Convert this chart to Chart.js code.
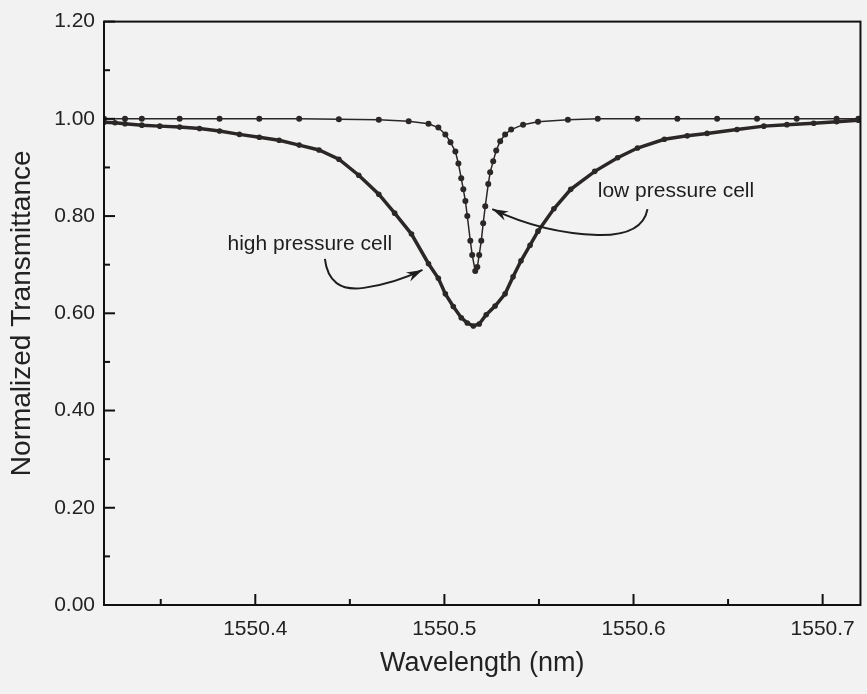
<!DOCTYPE html>
<html>
<head>
<meta charset="utf-8">
<script src="https://cdn.jsdelivr.net/npm/chart.js@4/dist/chart.umd.min.js"></script>
<style>
  html, body { margin: 0; padding: 0; background: #f3f2f2; }
  #wrap { width: 867px; height: 694px; }
</style>
</head>
<body>
<div id="wrap"><canvas id="myChart" width="867" height="694"></canvas></div>
<script>
// wavelength (nm) and normalized transmittance
var highWave = [1550.3200, 1550.3258, 1550.3311, 1550.3400, 1550.3495, 1550.3600, 1550.3705, 1550.3811,
  1550.3916, 1550.4021, 1550.4126, 1550.4232, 1550.4337, 1550.4442, 1550.4547, 1550.4653, 1550.4737,
  1550.4826, 1550.4916, 1550.4968, 1550.5005, 1550.5047, 1550.5089, 1550.5121, 1550.5153, 1550.5184,
  1550.5221, 1550.5268, 1550.5321, 1550.5363, 1550.5405, 1550.5453, 1550.5495, 1550.5579, 1550.5668,
  1550.5795, 1550.5916, 1550.6021, 1550.6163, 1550.6284, 1550.6389, 1550.6547, 1550.6689, 1550.6811,
  1550.6953, 1550.7074, 1550.7189];
var highTrans = [0.993, 0.992, 0.990, 0.987, 0.985, 0.983, 0.980, 0.975,
  0.968, 0.962, 0.956, 0.946, 0.936, 0.917, 0.884, 0.845, 0.806,
  0.763, 0.702, 0.672, 0.640, 0.614, 0.591, 0.580, 0.574, 0.578,
  0.597, 0.615, 0.640, 0.675, 0.708, 0.740, 0.769, 0.815, 0.855,
  0.892, 0.920, 0.940, 0.958, 0.965, 0.970, 0.978, 0.985, 0.988,
  0.991, 0.994, 0.997];

var lowWave = [1550.3200, 1550.3311, 1550.3400, 1550.3600, 1550.3811, 1550.4021, 1550.4232, 1550.4442,
  1550.4653, 1550.4811, 1550.4916, 1550.4968, 1550.5005, 1550.5032, 1550.5058, 1550.5074, 1550.5089,
  1550.5100, 1550.5111, 1550.5121, 1550.5137, 1550.5147, 1550.5163, 1550.5174, 1550.5184, 1550.5195,
  1550.5205, 1550.5216, 1550.5232, 1550.5242, 1550.5258, 1550.5274, 1550.5295, 1550.5321, 1550.5353,
  1550.5416, 1550.5495, 1550.5653, 1550.5811, 1550.6021, 1550.6232, 1550.6442, 1550.6653, 1550.6863,
  1550.7074, 1550.7189];
var lowTrans = [1.000, 1.000, 1.000, 1.000, 1.000, 1.000, 1.000, 0.999,
  0.998, 0.995, 0.990, 0.982, 0.968, 0.952, 0.933, 0.908, 0.878,
  0.855, 0.831, 0.800, 0.749, 0.720, 0.687, 0.695, 0.720, 0.749,
  0.785, 0.820, 0.866, 0.890, 0.913, 0.935, 0.954, 0.968, 0.978,
  0.988, 0.994, 0.998, 1.000, 1.000, 1.000, 1.000, 1.000, 1.000,
  1.000, 1.000];

var xTicks = [1550.4, 1550.5, 1550.6, 1550.7];
var xMinorTicks = [1550.35, 1550.45, 1550.55, 1550.65];
var yTicks = [0.0, 0.2, 0.4, 0.6, 0.8, 1.0, 1.2];
var yMinorTicks = [0.1, 0.3, 0.5, 0.7, 0.9, 1.1];

// labels and arrows, in data units
var labelHigh = { text: "high pressure cell", x: 1550.3853, y: 0.7426 };
var labelLow = { text: "low pressure cell", x: 1550.5811, y: 0.8513 };
var arrowHigh = [[1550.4368, 0.7118], [1550.4389, 0.6421], [1550.4574, 0.6523], [1550.4732, 0.6605], [1550.4884, 0.6892]];
var arrowLow = [[1550.6074, 0.8144], [1550.6047, 0.7590], [1550.5811, 0.7610], [1550.5521, 0.7651], [1550.5253, 0.8144]];

var ink = "#2b2727";
var fontName = "'Liberation Sans Narrow', 'Liberation Sans', Arial, sans-serif";
Chart.defaults.font.family = fontName;
Chart.defaults.color = "#222";

function pares(xs, ys) {
  var out = [];
  for (var i = 0; i < xs.length; i++) {
    out.push({ x: xs[i], y: ys[i] });
  }
  return out;
}

var molduraPlugin = {
  id: "moldura",
  afterDraw: function (chart) {
    var ctx = chart.ctx;
    var a = chart.chartArea;
    var sx = chart.scales.x;
    var sy = chart.scales.y;
    ctx.save();
    ctx.strokeStyle = "#111";
    ctx.lineWidth = 2;
    ctx.strokeRect(a.left, a.top, a.right - a.left, a.bottom - a.top);

    ctx.lineWidth = 2;
    xTicks.forEach(function (v) {
      var p = sx.getPixelForValue(v);
      ctx.beginPath(); ctx.moveTo(p, a.bottom); ctx.lineTo(p, a.bottom - 11); ctx.stroke();
    });
    xMinorTicks.forEach(function (v) {
      var p = sx.getPixelForValue(v);
      ctx.beginPath(); ctx.moveTo(p, a.bottom); ctx.lineTo(p, a.bottom - 6); ctx.stroke();
    });
    yTicks.forEach(function (v) {
      var p = sy.getPixelForValue(v);
      ctx.beginPath(); ctx.moveTo(a.left, p); ctx.lineTo(a.left + 11, p); ctx.stroke();
    });
    yMinorTicks.forEach(function (v) {
      var p = sy.getPixelForValue(v);
      ctx.beginPath(); ctx.moveTo(a.left, p); ctx.lineTo(a.left + 6, p); ctx.stroke();
    });

    // annotations
    ctx.fillStyle = "#1e1e1e";
    ctx.font = "21px " + fontName;
    ctx.textBaseline = "middle";
    ctx.textAlign = "left";
    [labelHigh, labelLow].forEach(function (l) {
      ctx.fillText(l.text, sx.getPixelForValue(l.x), sy.getPixelForValue(l.y));
    });

    [arrowHigh, arrowLow].forEach(function (pts) {
      var p = pts.map(function (q) { return [sx.getPixelForValue(q[0]), sy.getPixelForValue(q[1])]; });
      ctx.strokeStyle = "#1e1e1e";
      ctx.lineWidth = 2;
      ctx.beginPath();
      ctx.moveTo(p[0][0], p[0][1]);
      ctx.quadraticCurveTo(p[1][0], p[1][1], p[2][0], p[2][1]);
      ctx.quadraticCurveTo(p[3][0], p[3][1], p[4][0], p[4][1]);
      ctx.stroke();
      var ang = Math.atan2(p[4][1] - p[3][1], p[4][0] - p[3][0]);
      ctx.beginPath();
      ctx.moveTo(p[4][0], p[4][1]);
      ctx.lineTo(p[4][0] - 16 * Math.cos(ang) + 5 * Math.sin(ang), p[4][1] - 16 * Math.sin(ang) - 5 * Math.cos(ang));
      ctx.lineTo(p[4][0] - 11 * Math.cos(ang), p[4][1] - 11 * Math.sin(ang));
      ctx.lineTo(p[4][0] - 16 * Math.cos(ang) - 5 * Math.sin(ang), p[4][1] - 16 * Math.sin(ang) + 5 * Math.cos(ang));
      ctx.closePath();
      ctx.fill();
    });
    ctx.restore();
  },
};

var ctx = document.getElementById("myChart");
var data = {
  datasets: [
    {
      label: "high pressure cell",
      data: pares(highWave, highTrans),
      showLine: true,
      borderColor: ink,
      backgroundColor: ink,
      borderWidth: 3.5,
      pointRadius: 2.8,
      pointBorderWidth: 0,
    },
    {
      label: "low pressure cell",
      data: pares(lowWave, lowTrans),
      showLine: true,
      borderColor: ink,
      backgroundColor: ink,
      borderWidth: 1.5,
      pointRadius: 3,
      pointBorderWidth: 0,
    },
  ],
};

var config = {
  type: "scatter",
  data: data,
  options: {
    responsive: false,
    animation: false,
    layout: { padding: { left: 0, top: 20, right: 5, bottom: 0 } },
    plugins: { legend: { display: false }, tooltip: { enabled: false } },
    scales: {
      x: {
        type: "linear",
        min: 1550.32,
        max: 1550.72,
        afterBuildTicks: function (scale) {
          scale.ticks = xTicks.map(function (v) { return { value: v }; });
        },
        afterFit: function (scale) { scale.height = 89; },
        grid: { display: false, drawTicks: false },
        border: { display: false },
        ticks: {
          font: { size: 21 },
          color: "#222",
          padding: 12,
          maxRotation: 0,
          callback: function (v) { return Number(v).toFixed(1); },
        },
        title: {
          display: true,
          text: "Wavelength (nm)",
          font: { size: 27 },
          color: "#222",
          padding: { top: 0, bottom: 14 },
        },
      },
      y: {
        min: 0,
        max: 1.2,
        afterBuildTicks: function (scale) {
          scale.ticks = yTicks.map(function (v) { return { value: v }; });
        },
        afterFit: function (scale) { scale.width = 104; },
        grid: { display: false, drawTicks: false },
        border: { display: false },
        ticks: {
          font: { size: 21 },
          color: "#222",
          padding: 9,
          callback: function (v) { return Number(v).toFixed(2); },
        },
        title: {
          display: true,
          text: "Normalized Transmittance",
          font: { size: 28 },
          color: "#222",
          padding: { top: 5, bottom: 0 },
        },
      },
    },
  },
  plugins: [molduraPlugin],
};

var myChart = new Chart(ctx, config);
</script>
</body>
</html>
